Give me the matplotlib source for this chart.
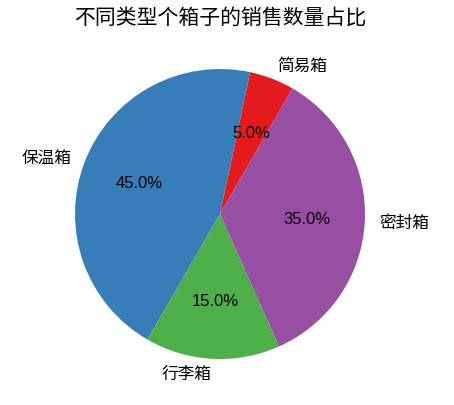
import matplotlib
matplotlib.use("Agg")
import matplotlib.pyplot as plt

labels = ['简易箱', '保温箱', '行李箱', '密封箱']
values = [5, 45, 15, 35]
colors = ['#e41a1c', '#377eb8', '#4daf4a', '#984ea3']
title = '不同类型个箱子的销售数量占比'

plt.rcParams['font.family'] = ['Liberation Sans', 'Noto Sans CJK SC', 'DejaVu Sans']

W, H = 454, 406
fig = plt.figure(figsize=(W / 100, H / 100), dpi=100)
cx, cy, r = 220, 215, 145
ax = fig.add_axes([(cx - r) / W, (H - cy - r) / H, 2 * r / W, 2 * r / H])
ax.pie(values, labels=labels, colors=colors, autopct='%1.1f%%', startangle=60,
       textprops={'fontsize': 12})
ax.set_xlim(-1, 1)
ax.set_ylim(-1, 1)
ax.set_aspect('equal')
fig.text(cx / W + 0.0, 1 - 18 / H, title, ha='center', va='center', fontsize=15)
fig.savefig('out.png', dpi=100)
